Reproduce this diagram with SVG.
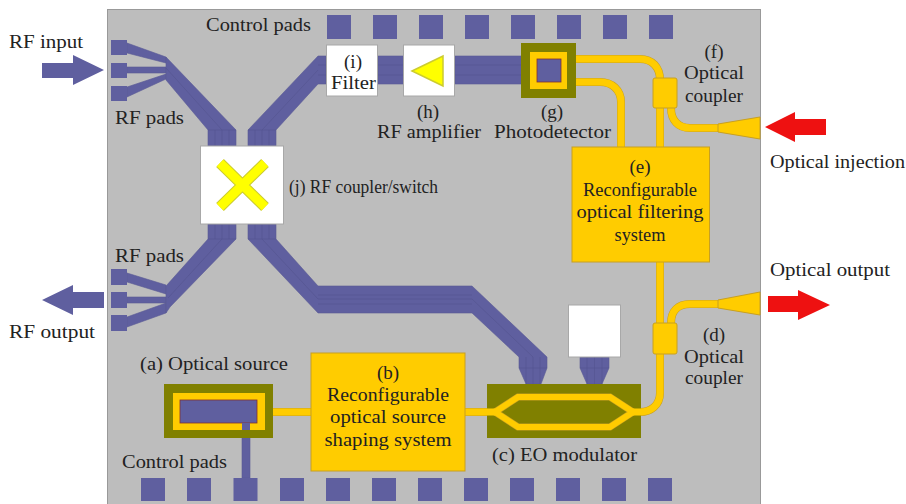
<svg xmlns="http://www.w3.org/2000/svg" width="906" height="504" viewBox="0 0 906 504">
<style>
text{font-family:"Liberation Serif","Times New Roman",serif;font-size:19px;fill:#222}
.m{text-anchor:middle}
.p{fill:#5f5f9f}
.b{fill:#5f5f9f;stroke:#5a5a96;stroke-width:.6}
.g{stroke:#52528c;stroke-width:.5;fill:none}
.o{fill:#808000}
.y{fill:#ffcc00}
.ys{fill:#ffcc00;stroke:#c8a020;stroke-width:1}
.w{fill:none;stroke:#ffcc00;stroke-width:7}
.wo{fill:none;stroke:#c8a020;stroke-width:8}
.wh{fill:#fff;stroke:#a8a8a8;stroke-width:1}
.r{fill:#ee1111}
</style>
<rect id="chip" x="107.500" y="9.500" width="653" height="495" fill="#bdbdbd" stroke="#999" stroke-width="1"/>

<g id="connectors">
  <g id="rf-buses">
    <path class="b" d="M127 43L166 57V63L127 53ZM127 67H166V73H127ZM127 87L166 74V79L127 97Z"/>
    <path class="b" d="M166 57L236 130V146H208V130L166 80Z"/>
    <path class="g" d="M215 130V146M222 130V146M229 130V146M222 130L166 68M208 130H236"/>
    <path class="b" d="M248 146V130L318 56H326V84H318L276 130V146Z"/>
    <rect class="b" x="378" y="56" width="26" height="28"/>
    <rect class="b" x="455" y="56" width="67" height="28"/>
    <path class="g" d="M378 65H403M378 75H403M455 65H521M455 75H521M318 65H326M318 75H326M255 130V146M262 130V146M269 130V146M248 130H276M262 130L318 70"/>
    <path class="b" d="M127 273L166 285V294L127 282ZM127 297H166V303H127ZM127 317L166 303V313L127 327Z"/>
    <path class="b" d="M208 224H236V239L170 307L166 313V286L208 239Z"/>
    <path class="g" d="M215 224V239M222 224V239M229 224V239M222 239L168 298M208 239H236"/>
    <path class="b" d="M248 224H276V239L318 286H472L547 357V368L541 384H526L519 368V357L472 313H318L248 239Z"/>
    <path class="g" d="M255 224V239M262 224V239M269 224V239M262 239L318 299H472L533 357M318 295H472M318 304H472M526 357V384M533 357V384M540 357V384M519 368H547M248 239H276"/>
    <path class="b" d="M580 357H609V368L602 384H587L580 368Z"/>
    <path class="g" d="M587 357V384M594.500 357V384M602 357V384M580 368H609"/>
    <rect class="b" x="242" y="423" width="8" height="55"/>
  </g>
  <g id="optical-guides">
    <path class="wo" d="M576 59H640C652 59 660 67 660 80M576 82H600C612 82 621 90 621 102V147M660 108V147M660 262V323M660 354V393C660 405 651 412 640 412H633M671 108C671 120 678 128 690 128H718M671 323C671 311 678 304 690 304H718M273 412H311M465 412H495"/>
    <path class="w" d="M576 59H640C652 59 660 67 660 80M576 82H600C612 82 621 90 621 102V147M660 108V147M660 262V323M660 354V393C660 405 651 412 640 412H633M671 108C671 120 678 128 690 128H718M671 323C671 311 678 304 690 304H718M273 412H311M465 412H495"/>
    <path class="ys" d="M718 124L760 117V139L718 132Z"/>
    <path class="ys" d="M718 300L760 292V315L718 308Z"/>
  </g>
</g>

<g id="control-pads-top">
  <rect class="p" x="327" y="15" width="24" height="24"/><rect class="p" x="373" y="15" width="24" height="24"/><rect class="p" x="419" y="15" width="24" height="24"/><rect class="p" x="465" y="15" width="24" height="24"/><rect class="p" x="511" y="15" width="24" height="24"/><rect class="p" x="557" y="15" width="24" height="24"/><rect class="p" x="603" y="15" width="24" height="24"/><rect class="p" x="649" y="15" width="24" height="24"/>
  <text x="206" y="31" textLength="105" lengthAdjust="spacingAndGlyphs">Control pads</text>
</g>
<g id="control-pads-bottom">
  <rect class="p" x="141" y="478" width="24" height="23"/><rect class="p" x="187" y="478" width="24" height="23"/><rect class="p" x="233.500" y="478" width="24" height="23"/><rect class="p" x="280" y="478" width="24" height="23"/><rect class="p" x="326" y="478" width="24" height="23"/><rect class="p" x="372" y="478" width="24" height="23"/><rect class="p" x="418" y="478" width="24" height="23"/><rect class="p" x="464" y="478" width="24" height="23"/><rect class="p" x="510" y="478" width="24" height="23"/><rect class="p" x="556" y="478" width="24" height="23"/><rect class="p" x="602" y="478" width="24" height="23"/><rect class="p" x="648" y="478" width="24" height="23"/>
  <text x="122" y="468" textLength="105" lengthAdjust="spacingAndGlyphs">Control pads</text>
</g>
<g id="rf-pads-in">
  <rect class="p" x="111" y="40" width="16" height="15"/><rect class="p" x="111" y="63" width="16" height="15"/><rect class="p" x="111" y="86" width="16" height="15"/>
  <text x="115" y="124" textLength="69" lengthAdjust="spacingAndGlyphs">RF pads</text>
</g>
<g id="rf-pads-out">
  <rect class="p" x="111" y="269" width="16" height="16"/><rect class="p" x="111" y="292" width="16" height="16"/><rect class="p" x="111" y="315" width="16" height="16"/>
  <text x="115" y="262" textLength="69" lengthAdjust="spacingAndGlyphs">RF pads</text>
</g>
<g id="rf-input">
  <path class="p" d="M42 63H73V55L104 70L73 85V78H42Z"/>
  <text x="9" y="48" textLength="74" lengthAdjust="spacingAndGlyphs">RF input</text>
</g>
<g id="rf-output">
  <path class="p" d="M104 292H73V285L42 300L73 315V308H104Z"/>
  <text x="9" y="338" textLength="86" lengthAdjust="spacingAndGlyphs">RF output</text>
</g>
<g id="optical-injection">
  <path class="r" d="M826 119H795V112L765 127L795 142V135H826Z"/>
  <text x="770" y="168" textLength="135" lengthAdjust="spacingAndGlyphs">Optical injection</text>
</g>
<g id="optical-output">
  <path class="r" d="M768 296H798V290L830 305L798 320V312H768Z"/>
  <text x="770" y="276" textLength="120" lengthAdjust="spacingAndGlyphs">Optical output</text>
</g>
<g id="j-coupler-switch">
  <rect class="wh" x="200.500" y="146" width="83" height="78"/>
  <path d="M220 163L265 207M265 163L220 207" stroke="#cccc30" stroke-width="11" fill="none"/>
  <path d="M220 163L265 207M265 163L220 207" stroke="#ffff00" stroke-width="9" fill="none"/>
  <text x="289" y="193" textLength="149" lengthAdjust="spacingAndGlyphs">(j) RF coupler/switch</text>
</g>
<g id="i-filter">
  <rect class="wh" x="326.500" y="45" width="51" height="51"/>
  <text class="m" x="353" y="68">(i)</text>
  <text class="m" x="353.500" y="89" textLength="45" lengthAdjust="spacingAndGlyphs">Filter</text>
</g>
<g id="h-amplifier">
  <rect class="wh" x="403.500" y="45" width="51" height="51"/>
  <path d="M412 71L443 56V86Z" fill="#ffff00" stroke="#cccc30" stroke-width="1.500"/>
  <text class="m" x="428" y="118">(h)</text>
  <text class="m" x="429" y="138" textLength="104" lengthAdjust="spacingAndGlyphs">RF amplifier</text>
</g>
<g id="g-photodetector">
  <rect class="o" x="521" y="43" width="55" height="55"/>
  <rect class="y" x="530" y="52" width="37" height="37"/>
  <rect class="p" x="537" y="59" width="24" height="23" stroke="#803030" stroke-width=".8"/>
  <text class="m" x="552" y="118">(g)</text>
  <text class="m" x="552.500" y="138" textLength="117" lengthAdjust="spacingAndGlyphs">Photodetector</text>
</g>
<g id="f-coupler">
  <rect class="ys" x="653" y="78" width="24" height="30" rx="2"/>
  <text class="m" x="714" y="58">(f)</text>
  <text class="m" x="714" y="79" textLength="60" lengthAdjust="spacingAndGlyphs">Optical</text>
  <text class="m" x="714" y="102" textLength="58" lengthAdjust="spacingAndGlyphs">coupler</text>
</g>
<g id="e-filtering">
  <rect class="ys" x="572" y="147" width="137.500" height="115"/>
  <text class="m" x="640" y="173">(e)</text>
  <text class="m" x="640" y="196" textLength="114" lengthAdjust="spacingAndGlyphs">Reconfigurable</text>
  <text class="m" x="640" y="218" textLength="127" lengthAdjust="spacingAndGlyphs">optical filtering</text>
  <text class="m" x="640" y="241" textLength="51" lengthAdjust="spacingAndGlyphs">system</text>
</g>
<g id="d-coupler">
  <rect class="ys" x="653" y="323" width="24" height="31" rx="2"/>
  <text class="m" x="714" y="341">(d)</text>
  <text class="m" x="714" y="363" textLength="60" lengthAdjust="spacingAndGlyphs">Optical</text>
  <text class="m" x="714" y="384" textLength="58" lengthAdjust="spacingAndGlyphs">coupler</text>
</g>
<g id="bias-pad">
  <rect class="wh" x="568.500" y="305" width="52" height="52"/>
</g>
<g id="c-modulator">
  <rect class="o" x="487" y="384" width="154" height="54"/>
  <path d="M495 412L518 397H610L633 412L610 427H518Z" fill="none" stroke="#c8a020" stroke-width="7"/>
  <path d="M495 412L518 397H610L633 412L610 427H518Z" fill="none" stroke="#ffcc00" stroke-width="6"/>
  <path d="M487 412H495M633 412H641" stroke="#ffcc00" stroke-width="7" fill="none"/>
  <text x="492" y="461" textLength="145" lengthAdjust="spacingAndGlyphs">(c) EO modulator</text>
</g>
<g id="a-source">
  <rect class="o" x="164" y="384" width="109" height="54"/>
  <rect class="y" x="173" y="393" width="92" height="37"/>
  <rect class="p" x="180" y="400" width="77" height="23" stroke="#803030" stroke-width=".8"/>
  <rect class="p" x="242" y="423" width="8" height="7"/>
  <text x="140" y="370" textLength="148" lengthAdjust="spacingAndGlyphs">(a) Optical source</text>
</g>
<g id="b-shaping">
  <rect class="ys" x="311" y="353" width="154" height="118"/>
  <text class="m" x="388" y="379">(b)</text>
  <text class="m" x="388" y="401" textLength="122" lengthAdjust="spacingAndGlyphs">Reconfigurable</text>
  <text class="m" x="388" y="423" textLength="116" lengthAdjust="spacingAndGlyphs">optical source</text>
  <text class="m" x="388" y="446" textLength="127" lengthAdjust="spacingAndGlyphs">shaping system</text>
</g>
</svg>
